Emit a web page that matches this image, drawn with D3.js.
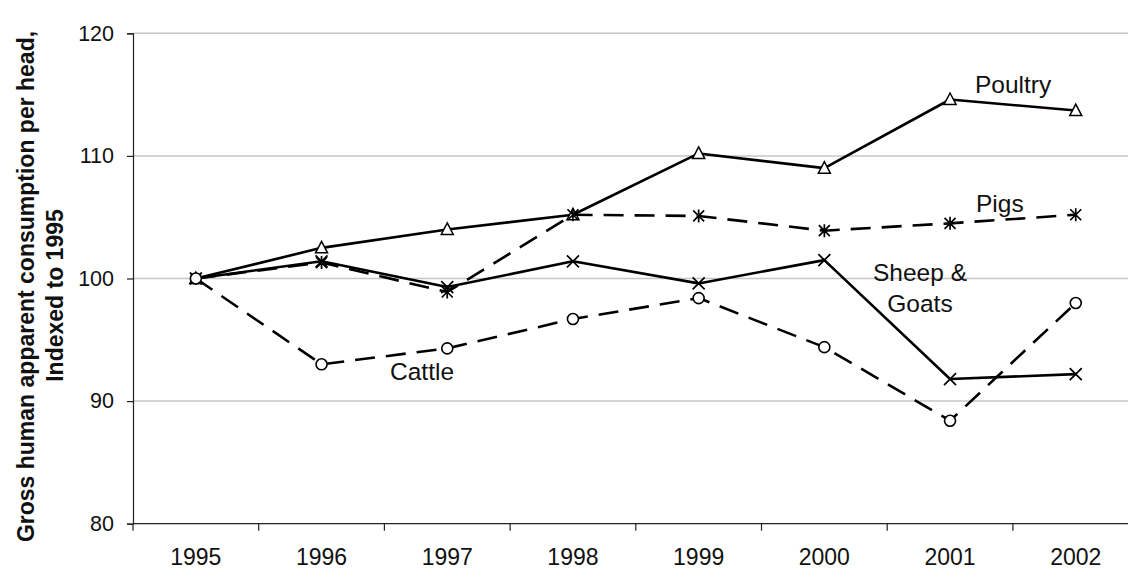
<!DOCTYPE html>
<html>
<head>
<meta charset="utf-8">
<script src="https://cdn.jsdelivr.net/npm/d3@7"></script>
<style>
  html, body { margin: 0; padding: 0; background: #fff; }
  svg { display: block; font-family: "Liberation Sans", Arial, sans-serif; }
</style>
</head>
<body>
<svg id="chart" width="1128" height="570"></svg>
<script>
// ---- data ----
const years = ["1995", "1996", "1997", "1998", "1999", "2000", "2001", "2002"];
const yTicks = [80, 90, 100, 110, 120];
const poultry = [100, 102.5, 104.0, 105.2, 110.2, 109.0, 114.6, 113.7];
const pigs = [100, 101.3, 98.9, 105.2, 105.1, 103.9, 104.5, 105.2];
const sheepGoats = [100, 101.4, 99.3, 101.4, 99.6, 101.5, 91.8, 92.2];
const cattle = [100, 93.0, 94.3, 96.7, 98.4, 94.4, 88.4, 98.0];
const yTitle = ["Gross human apparent consumption per head,", "Indexed to 1995"];

const series = [
  { name: "Poultry", values: poultry, dashed: false, marker: "triangle", label: ["Poultry"] },
  { name: "Sheep & Goats", values: sheepGoats, dashed: false, marker: "x", label: ["Sheep &", "Goats"] },
  { name: "Pigs", values: pigs, dashed: true, marker: "asterisk", label: ["Pigs"] },
  { name: "Cattle", values: cattle, dashed: true, marker: "circle", label: ["Cattle"] }
];

// ---- layout ----
const plotLeft = 133, plotRight = 1138.6, plotTop = 33.3, plotBottom = 523.7;
const svg = d3.select("#chart");

const x = d3.scaleBand().domain(years).range([plotLeft, plotRight]).padding(0);
const cx = d => x(d) + x.bandwidth() / 2;
const y = d3.scaleLinear().domain([80, 120]).range([plotBottom, plotTop]);

// gridlines
svg.append("g").selectAll("line")
  .data(yTicks.filter(t => t !== 80))
  .join("line")
  .attr("x1", plotLeft).attr("x2", plotRight)
  .attr("y1", d => y(d)).attr("y2", d => y(d))
  .attr("stroke", "#c6c6c6").attr("stroke-width", 1.5);

// y axis
const yAxis = svg.append("g")
  .attr("transform", `translate(${plotLeft},0)`)
  .call(d3.axisLeft(y).tickValues(yTicks).tickSize(6).tickPadding(13).tickFormat(d3.format("d")));
yAxis.select(".domain").attr("stroke", "#222").attr("stroke-width", 1.2);
yAxis.selectAll(".tick line").attr("stroke", "#222").attr("stroke-width", 1.2);
yAxis.selectAll(".tick text")
  .attr("font-size", 21.5).attr("fill", "#111")
  .attr("font-family", "Liberation Sans, Arial, sans-serif");

// x axis
const xg = svg.append("g");
xg.append("line")
  .attr("x1", plotLeft).attr("x2", plotRight)
  .attr("y1", plotBottom).attr("y2", plotBottom)
  .attr("stroke", "#222").attr("stroke-width", 1.2);
xg.selectAll("line.tk")
  .data(years)
  .join("line")
  .attr("class", "tk")
  .attr("x1", d => x(d)).attr("x2", d => x(d))
  .attr("y1", plotBottom).attr("y2", plotBottom + 7)
  .attr("stroke", "#222").attr("stroke-width", 1.2);
xg.selectAll("text")
  .data(years)
  .join("text")
  .attr("x", d => cx(d))
  .attr("y", 565)
  .attr("text-anchor", "middle")
  .attr("font-size", 23)
  .attr("fill", "#111")
  .text(d => d);

// y title
const titleG = svg.append("g")
  .attr("transform", `translate(0,${(plotTop + plotBottom) / 2 + 8}) rotate(-90)`);
titleG.selectAll("text")
  .data(yTitle)
  .join("text")
  .attr("x", (d, i) => i === 0 ? 0 : -9)
  .attr("y", (d, i) => i === 0 ? 34 : 63)
  .attr("text-anchor", "middle")
  .attr("font-size", 23)
  .attr("font-weight", "bold")
  .attr("fill", "#111")
  .text(d => d);

// marker shapes
function markerPath(type) {
  switch (type) {
    case "triangle": return "M0,-6.5 L6,5 L-6,5 Z";
    case "x": return "M-6,-6 L6,6 M-6,6 L6,-6";
    case "asterisk": return "M-5.5,-5.5 L5.5,5.5 M-5.5,5.5 L5.5,-5.5 M0,-6.5 L0,6.5";
    default: return null;
  }
}

const line = d3.line().x((d, i) => cx(years[i])).y(d => y(d));

series.forEach(s => {
  const g = svg.append("g");
  g.append("path")
    .datum(s.values)
    .attr("d", line)
    .attr("fill", "none")
    .attr("stroke", "#000")
    .attr("stroke-width", 2.6)
    .attr("stroke-linejoin", "round")
    .attr("stroke-dasharray", s.dashed ? "20,11" : null);
  const pts = g.selectAll(".m").data(s.values).join(s.marker === "circle" ? "circle" : "path")
    .attr("class", "m");
  if (s.marker === "circle") {
    pts.attr("cx", (d, i) => cx(years[i])).attr("cy", d => y(d)).attr("r", 5.5)
      .attr("fill", "#fff").attr("stroke", "#000").attr("stroke-width", 1.6);
  } else {
    pts.attr("transform", (d, i) => `translate(${cx(years[i])},${y(d)})`)
      .attr("d", markerPath(s.marker))
      .attr("fill", s.marker === "triangle" ? "#fff" : "none")
      .attr("stroke", "#000").attr("stroke-width", s.marker === "triangle" ? 1.5 : 1.7);
  }
});

// series labels
const labelPos = {
  "Poultry": { x: 975, y: 93, anchor: "start" },
  "Pigs": { x: 976, y: 212, anchor: "start" },
  "Sheep & Goats": { x: 920, y: 281, anchor: "middle" },
  "Cattle": { x: 390, y: 380, anchor: "start" }
};
series.forEach(s => {
  const p = labelPos[s.name];
  s.label.forEach((t, i) => {
    svg.append("text")
      .attr("x", p.x).attr("y", p.y + i * 31)
      .attr("text-anchor", p.anchor)
      .attr("font-size", 24.5)
      .attr("fill", "#111")
      .text(t);
  });
});
</script>
</body>
</html>
